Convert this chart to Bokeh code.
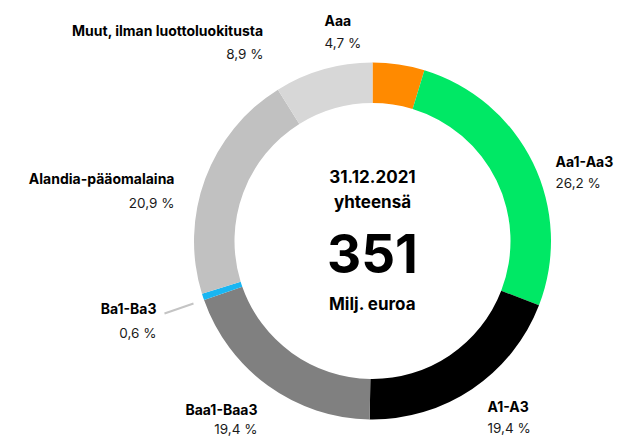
import numpy as np
from bokeh.plotting import figure
from bokeh.models import Range1d, ColumnDataSource
from bokeh.core.properties import value
from bokeh.embed import file_html
from bokeh.resources import INLINE

# ---- data ----
categories = ["Aaa", "Aa1-Aa3", "A1-A3", "Baa1-Baa3", "Ba1-Ba3",
              "Alandia-pääomalaina", "Muut, ilman luottoluokitusta"]
shares = [4.7, 26.2, 19.4, 19.4, 0.6, 20.9, 8.9]
colors = ["#FF8A00", "#00E865", "#000000", "#808080", "#19B6F2", "#C1C1C1", "#D7D7D7"]
date_label = "31.12.2021"
total_word = "yhteensä"
total_value = 351
unit_label = "Milj. euroa"

# ---- layout (screen px coordinates; y mapped as negative) ----
W, H = 629, 436
cx, cy = 372, 240.5
r_in, r_out = 138, 178.5
# label anchors: (x, y_name, y_pct, align)
anchors = [
    (324, 20, 42, "left"),
    (555, 161, 182, "left"),
    (487, 406, 427, "left"),
    (257, 409, 428, "right"),
    (156, 308, 332, "right"),
    (174, 178, 202, "right"),
    (263, 30, 53, "right"),
]
FONT = "Inter"

p = figure(width=W, height=H, output_backend="svg", toolbar_location=None,
           x_range=Range1d(0, W), y_range=Range1d(-H, 0),
           min_border=0, outline_line_color=None)
p.axis.visible = False
p.grid.visible = False
p.background_fill_color = "white"
p.border_fill_color = "white"

vals = np.array(shares)
frac = vals / vals.sum()
cum = np.concatenate([[0], np.cumsum(frac)])
start = np.pi / 2 - 2 * np.pi * cum[:-1]
end = np.pi / 2 - 2 * np.pi * cum[1:]
src = ColumnDataSource(dict(start=start, end=end, color=colors))
p.annular_wedge(x=cx, y=-cy, inner_radius=r_in, outer_radius=r_out,
                start_angle="start", end_angle="end", direction="clock",
                color="color", line_color=None, source=src)

# leader line for tiny Ba1-Ba3 slice
p.line(x=[164, 193], y=[-313, -303], line_color="#C4C4C4", line_width=2)

pct = [f"{v:.1f}".replace(".", ",") + " %" for v in shares]
for name, pc, (ax, yn, yp, al) in zip(categories, pct, anchors):
    p.text(x=[ax], y=[-yn], text=[name], text_align=al, text_baseline="middle",
           text_font=value(FONT), text_font_style="bold", text_font_size="14px",
           text_color="#000000")
    p.text(x=[ax], y=[-yp], text=[pc], text_align=al, text_baseline="middle",
           text_font=value(FONT), text_font_size="13.5px", text_color="#1a1a1a")

# center texts
p.text(x=[cx], y=[-176], text=[date_label], text_align="center", text_baseline="middle",
       text_font=value(FONT), text_font_style="bold", text_font_size="17px")
p.text(x=[cx], y=[-201], text=[total_word], text_align="center", text_baseline="middle",
       text_font=value(FONT), text_font_style="bold", text_font_size="17px")
p.text(x=[cx], y=[-253], text=[str(total_value)], text_align="center", text_baseline="middle",
       text_font=value(FONT), text_font_style="bold", text_font_size="53px")
p.text(x=[cx], y=[-303], text=[unit_label], text_align="center", text_baseline="middle",
       text_font=value(FONT), text_font_style="bold", text_font_size="17px")

open("out.html", "w").write(file_html(p, INLINE))
